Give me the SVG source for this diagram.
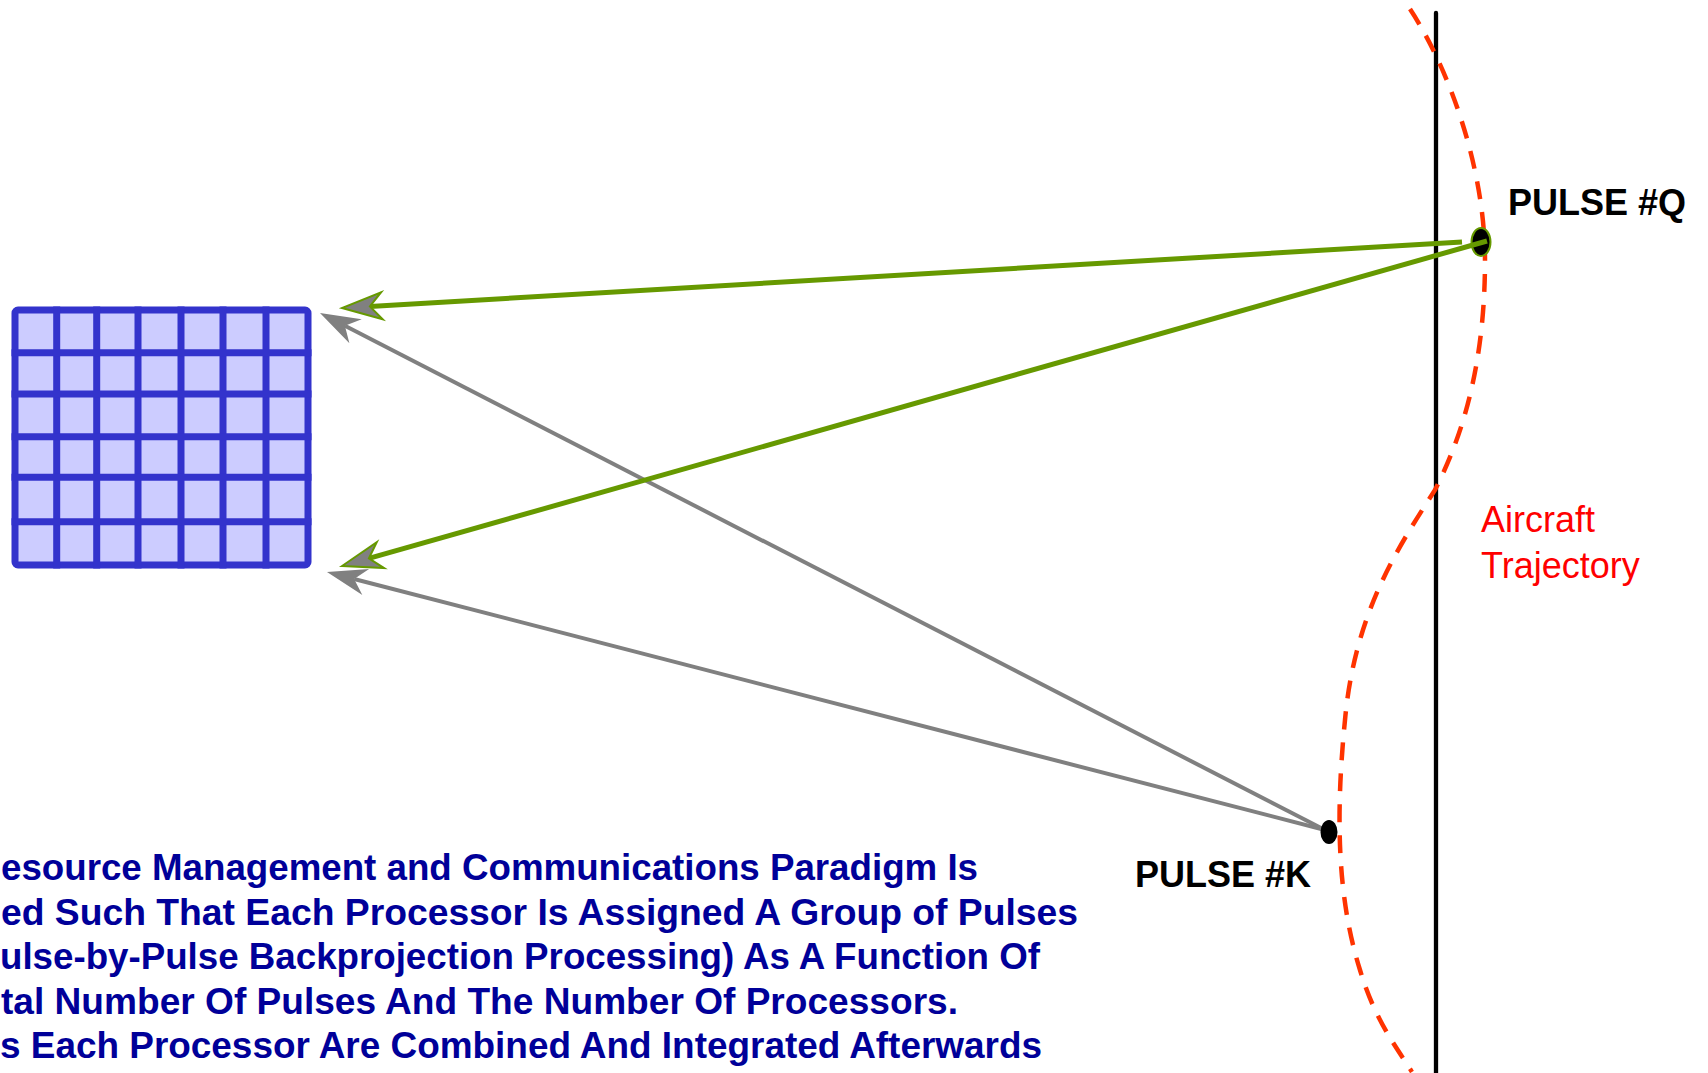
<svg xmlns="http://www.w3.org/2000/svg" width="1708" height="1073" viewBox="0 0 1708 1073">
<style>
.gl{stroke:#3333CC;stroke-width:7;stroke-linecap:square}
.green{stroke:#669900;stroke-width:5;fill:none}
.gray{stroke:#808080;stroke-width:4;fill:none}
.lbl{font-family:"Liberation Sans",Arial,sans-serif;font-weight:bold;font-size:36px;fill:#000}
.traj{font-family:"Liberation Sans",Arial,sans-serif;font-size:36px;fill:#FF0000}
.note{font-family:"Liberation Sans",Arial,sans-serif;font-weight:bold;font-size:37px;fill:#000099}
</style>
<defs>
<marker id="ahGreen" viewBox="-16 -17 48 34" refX="0" refY="0" markerWidth="48" markerHeight="34" markerUnits="userSpaceOnUse" orient="auto">
<path d="M28,0 L-12,-13.5 L0,0 L-12,13.5 Z" fill="#808080" stroke="#669900" stroke-width="2" stroke-linejoin="miter"/>
</marker>
<marker id="ahGray" viewBox="-16 -17 48 34" refX="0" refY="0" markerWidth="48" markerHeight="34" markerUnits="userSpaceOnUse" orient="auto">
<path d="M28,0 L-12,-13.5 L0,0 L-12,13.5 Z" fill="#808080"/>
</marker>
</defs>
<rect width="1708" height="1073" fill="#FFFFFF"/>

<g id="image-grid">
<rect x="15" y="310" width="293" height="255" fill="#CCCCFF" stroke="#3333CC" stroke-width="7" rx="3"/>
<g class="gl">
<line x1="56.7" y1="310" x2="56.7" y2="565"/>
<line x1="96.7" y1="310" x2="96.7" y2="565"/>
<line x1="138" y1="310" x2="138" y2="565"/>
<line x1="181" y1="310" x2="181" y2="565"/>
<line x1="223" y1="310" x2="223" y2="565"/>
<line x1="266" y1="310" x2="266" y2="565"/>
<line x1="15" y1="352.7" x2="308" y2="352.7"/>
<line x1="15" y1="394" x2="308" y2="394"/>
<line x1="15" y1="436.7" x2="308" y2="436.7"/>
<line x1="15" y1="477.3" x2="308" y2="477.3"/>
<line x1="15" y1="521.7" x2="308" y2="521.7"/>
</g>
</g>

<g id="ideal-path">
<line x1="1436" y1="13" x2="1436" y2="1073" stroke="#000" stroke-width="4.3" stroke-linecap="round"/>
</g>

<g id="trajectory">
<path d="M1410,9 C1450,70 1485,170 1485,260 C1485,380 1455,450 1435,490 C1400,545 1355,610 1345,720 C1335,820 1338,900 1360,970 C1375,1020 1395,1045 1412,1072" fill="none" stroke="#FF3300" stroke-width="4.5" stroke-dasharray="18 13"/>
<text class="traj" x="1481" y="532">Aircraft</text>
<text class="traj" x="1481" y="578">Trajectory</text>
</g>

<g id="connectors">
<line class="green" x1="1462" y1="242" x2="369.9" y2="306.4" marker-end="url(#ahGreen)"/>
<line class="gray" x1="1325" y1="830" x2="344.9" y2="325.8" marker-end="url(#ahGray)"/>
<line class="gray" x1="1325" y1="830" x2="354.1" y2="579" marker-end="url(#ahGray)"/>
</g>

<g id="pulse-q">
<ellipse cx="1481" cy="242" rx="9.5" ry="14" fill="#000" stroke="#669900" stroke-width="2"/>
<text class="lbl" x="1508" y="215">PULSE #Q</text>
</g>
<g id="connectors-q">
<line class="green" x1="1487" y1="241" x2="368.9" y2="558.4" marker-end="url(#ahGreen)"/>
</g>

<g id="pulse-k">
<ellipse cx="1329" cy="832" rx="8.5" ry="12" fill="#000"/>
<text class="lbl" x="1135" y="887">PULSE #K</text>
</g>

<g id="note">
<text class="note" x="1" y="880" textLength="977" lengthAdjust="spacingAndGlyphs">esource Management and Communications Paradigm Is</text>
<text class="note" x="1" y="924.5" textLength="1077" lengthAdjust="spacingAndGlyphs">ed Such That Each Processor Is Assigned A Group of Pulses</text>
<text class="note" x="0" y="969" textLength="1040" lengthAdjust="spacingAndGlyphs">ulse-by-Pulse Backprojection Processing) As A Function Of</text>
<text class="note" x="1" y="1013.5" textLength="957" lengthAdjust="spacingAndGlyphs">tal Number Of Pulses And The Number Of Processors.</text>
<text class="note" x="0" y="1058" textLength="1042" lengthAdjust="spacingAndGlyphs">s Each Processor Are Combined And Integrated Afterwards</text>
</g>
</svg>
